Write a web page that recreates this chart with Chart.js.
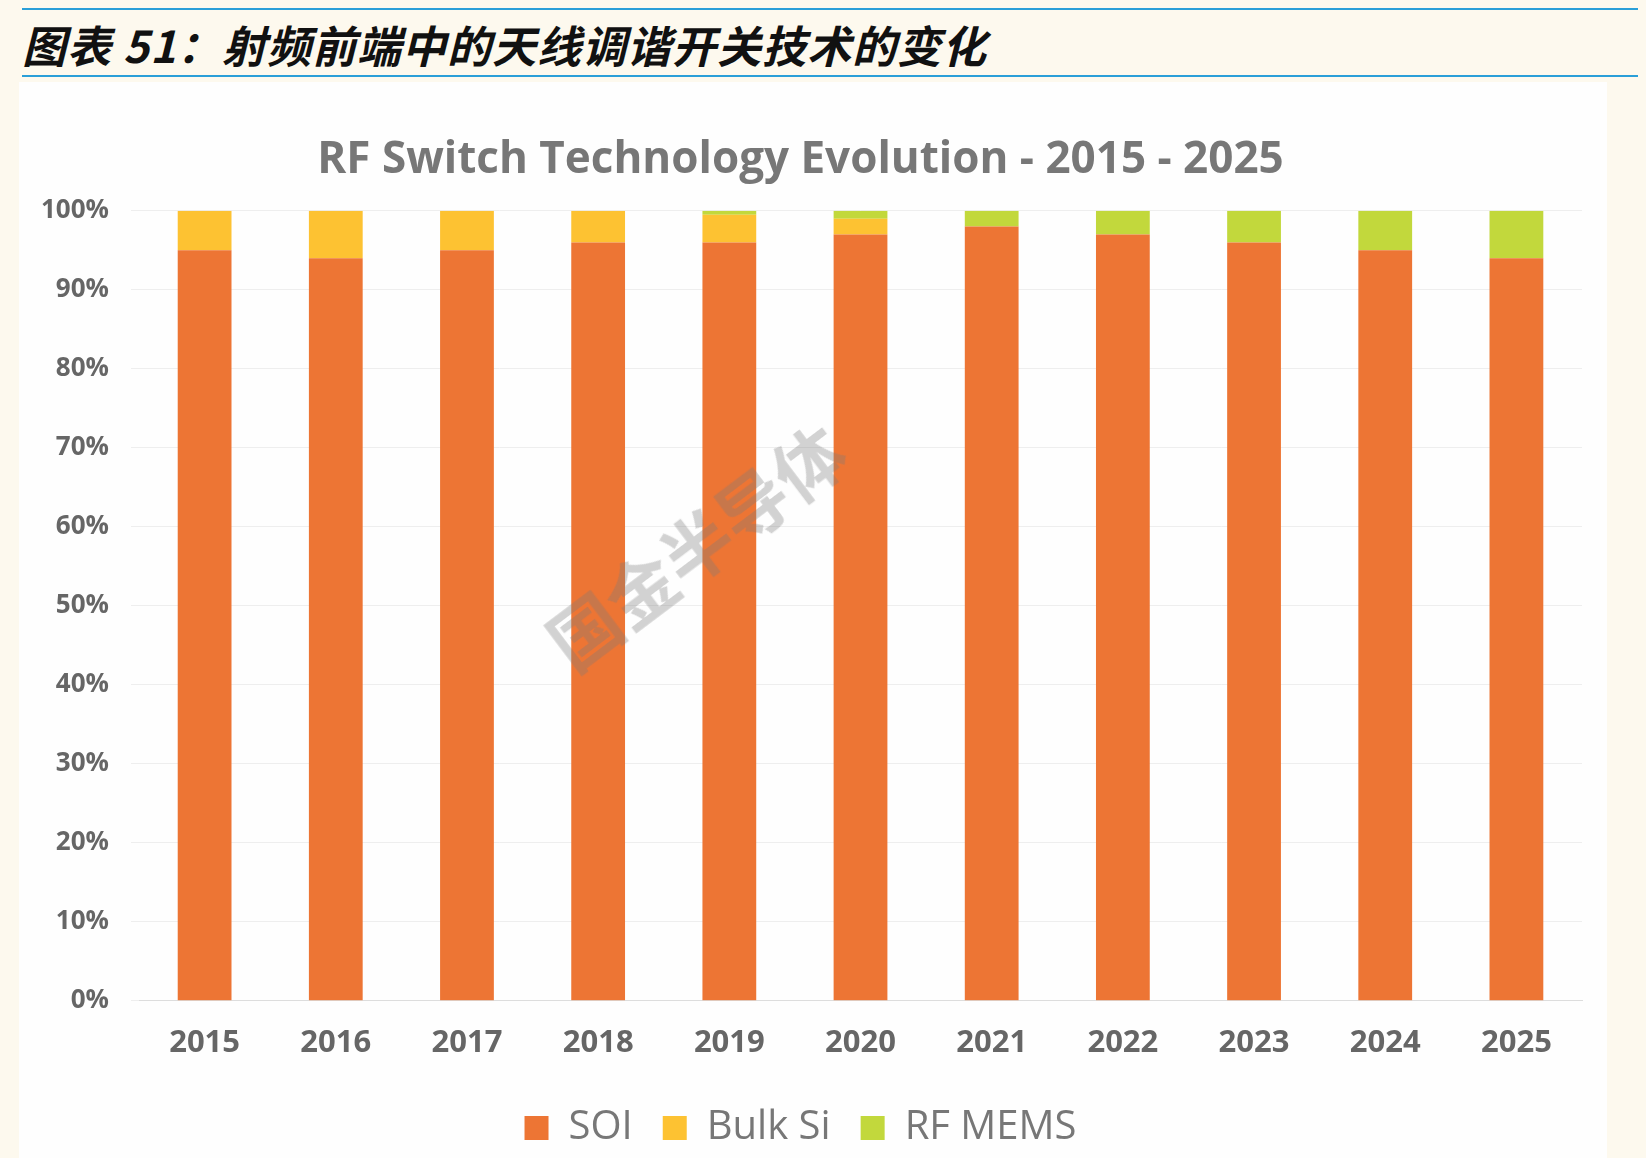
<!DOCTYPE html>
<html><head><meta charset="utf-8">
<script src="https://cdn.jsdelivr.net/npm/chart.js@4"></script>
<style>
body{margin:0;background:#fdf9ee;width:1646px;height:1158px;position:relative;font-family:"Liberation Sans",sans-serif;overflow:hidden}
#hdr{position:absolute;left:22px;top:12px;font:italic bold 44px "Noto Sans CJK SC";color:#111;letter-spacing:1px}
#l1{position:absolute;left:22px;top:8px;width:1616px;height:2px;background:#2a9fd8}
#l2{position:absolute;left:22px;top:75px;width:1616px;height:2px;background:#2a9fd8}
#panel{position:absolute;left:19px;top:82px;width:1588px;height:1076px;background:#fefefe}
#wm{position:absolute;left:525px;top:610px;font:bold 70px "Noto Sans CJK SC";color:rgba(120,120,120,0.33);transform:rotate(-37deg);transform-origin:left top}
</style></head><body>
<div id="l1"></div><div id="hdr">图表 51：射频前端中的天线调谐开关技术的变化</div><div id="l2"></div>
<div id="panel"><canvas id="c" width="1588" height="1076"></canvas></div>
<div id="wm">国金半导体</div>
<script>
const years=["2015","2016","2017","2018","2019","2020","2021","2022","2023","2024","2025"];
const soi=[95,94,95,96,96,97,98,97,96,95,94];
const bulk=[5,6,5,4,3.5,2,0,0,0,0,0];
const mems=[0,0,0,0,0.5,1,2,3,4,5,6];
new Chart(document.getElementById('c'),{type:'bar',
data:{labels:years,datasets:[
{label:'SOI',data:soi,backgroundColor:'#ed7534'},
{label:'Bulk Si',data:bulk,backgroundColor:'#fdc232'},
{label:'RF MEMS',data:mems,backgroundColor:'#c2d83c'}]},
options:{responsive:false,animation:false,
datasets:{bar:{categoryPercentage:1,barPercentage:0.41}},
layout:{padding:{left:0,right:25,top:30,bottom:0}},
plugins:{title:{display:true,text:'RF Switch Technology Evolution - 2015 - 2025',color:'#777',font:{family:'Open Sans',size:44,weight:'bold'},padding:{top:22,bottom:24}},
legend:{position:'bottom',labels:{boxWidth:24,boxHeight:24,color:'#777',font:{family:'Open Sans',size:40},padding:30}},tooltip:{enabled:false}},
scales:{x:{stacked:true,grid:{display:false},border:{color:'#ddd'},ticks:{color:'#666',font:{family:'Open Sans',size:31,weight:'bold'},padding:16}},
y:{stacked:true,min:0,max:100,ticks:{stepSize:10,callback:v=>v+'%',color:'#666',font:{family:'Open Sans',size:26,weight:'bold'},padding:22},grid:{color:'#eee'},border:{display:false}}}}});
</script></body></html>
